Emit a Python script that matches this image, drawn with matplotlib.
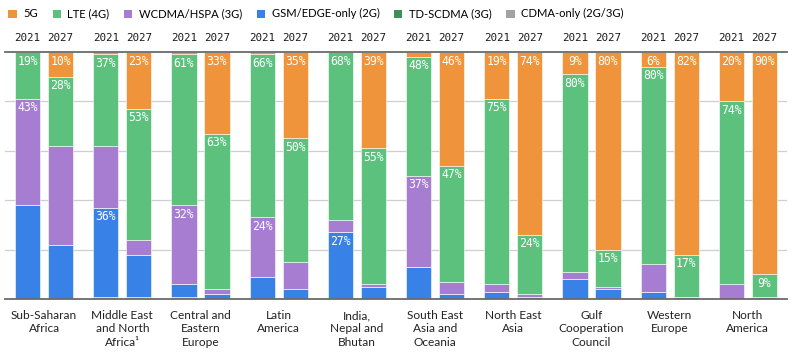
import matplotlib
matplotlib.use("Agg")
import matplotlib.pyplot as plt
import numpy as np
from matplotlib.patches import Patch

regions = ["Sub-Saharan\nAfrica", "Middle East\nand North\nAfrica\u00b9", "Central and\nEastern\nEurope",
           "Latin\nAmerica", "India,\nNepal and\nBhutan", "South East\nAsia and\nOceania",
           "North East\nAsia", "Gulf\nCooperation\nCouncil", "Western\nEurope", "North\nAmerica"]
years = ["2021", "2027"]

series = ["CDMA-only (2G/3G)", "GSM/EDGE-only (2G)", "TD-SCDMA (3G)", "WCDMA/HSPA (3G)", "LTE (4G)", "5G"]
colors = ["#a3a3a3", "#3881e6", "#3e8f5c", "#a67dd0", "#5bc17c", "#f0943b"]
legend_order = [5, 4, 3, 1, 2, 0]

# shares in %, one list per series (same order as `series`)
cdma_2021 = [0, 1, 1, 0, 0, 0, 0, 0, 0, 0]
gsm_2021 = [38, 36, 5, 9, 27, 13, 3, 8, 3, 0]
td_2021 = [0, 0, 0, 0, 0, 0, 0, 0, 0, 0]
wcdma_2021 = [43, 25, 32, 24, 5, 37, 3, 3, 11, 6]
lte_2021 = [19, 37, 61, 66, 68, 48, 75, 80, 80, 74]
g5_2021 = [0, 1, 1, 1, 0, 2, 19, 9, 6, 20]

cdma_2027 = [0, 1, 0, 0, 0, 0, 0, 0, 0, 0]
gsm_2027 = [22, 17, 2, 4, 5, 2, 1, 4, 1, 0]
td_2027 = [0, 0, 0, 0, 0, 0, 0, 0, 0, 0]
wcdma_2027 = [40, 6, 2, 11, 1, 5, 1, 1, 0, 1]
lte_2027 = [28, 53, 63, 50, 55, 47, 24, 15, 17, 9]
g5_2027 = [10, 23, 33, 35, 39, 46, 74, 80, 82, 90]

# which segments carry a value label (series index)
labels_2021 = [(4, 3), (4, 1), (4, 3), (4, 3), (4, 1), (4, 3), (5, 4), (5, 4), (5, 4), (5, 4)]
labels_2027 = [(5, 4)] * 10

data = {
    "2021": [cdma_2021, gsm_2021, td_2021, wcdma_2021, lte_2021, g5_2021],
    "2027": [cdma_2027, gsm_2027, td_2027, wcdma_2027, lte_2027, g5_2027],
}
lab = {"2021": labels_2021, "2027": labels_2027}

fig = plt.figure(figsize=(8, 3.56), dpi=100)
ax = fig.add_axes([5 / 800, 57 / 356, 782 / 800, 247 / 356])

x = np.arange(len(regions))
off = 0.211
width = 0.32

for k, yr in enumerate(years):
    xp = x + (off if k else -off)
    bottom = np.zeros(len(regions))
    for s, vals in enumerate(data[yr]):
        vals = np.array(vals, dtype=float)
        ax.bar(xp, vals, width, bottom=bottom, color=colors[s],
               edgecolor="white", linewidth=0.4, zorder=2)
        for i in range(len(regions)):
            if s in lab[yr][i]:
                ax.annotate(f"{int(vals[i])}%", (xp[i], bottom[i] + vals[i]),
                            xytext=(0, -6.5), textcoords="offset points",
                            ha="center", va="center", color="white",
                            fontsize=8.3, family="DejaVu Sans Mono", zorder=3)
        bottom += vals
    for i in range(len(regions)):
        ax.text(xp[i], 105.6, yr, ha="center", va="center", fontsize=7.8,
                family="DejaVu Sans Mono", color="#1a1a1a", clip_on=False)

for i, r in enumerate(regions):
    ax.annotate(r, (x[i], 0), xytext=(0, -8), textcoords="offset points",
                ha="center", va="top", fontsize=8.6, family="Lato",
                color="#222222", linespacing=1.25)

ax.set_xlim(-0.5, 9.5)
ax.set_ylim(0, 100)
ax.set_yticks([20, 40, 60, 80])
ax.yaxis.grid(True, color="#cfcfcf", linewidth=0.9, zorder=0)
ax.set_xticks([])
ax.tick_params(left=False, labelleft=False)
for side in ["left", "right"]:
    ax.spines[side].set_visible(False)
for side in ["top", "bottom"]:
    ax.spines[side].set_color("#6a6a6a")
    ax.spines[side].set_linewidth(1.3)
    ax.spines[side].set_zorder(4)

handles = [Patch(facecolor=colors[s], label=series[s]) for s in legend_order]
fig.legend(handles=handles, loc="upper left", bbox_to_anchor=(0.0, 1.0), ncol=6,
           frameon=False, prop={"family": "Lato", "size": 8.1},
           handlelength=0.72, handleheight=0.72, handletextpad=0.6,
           columnspacing=1.3, borderaxespad=0.35)

fig.savefig("out.png", dpi=100)
